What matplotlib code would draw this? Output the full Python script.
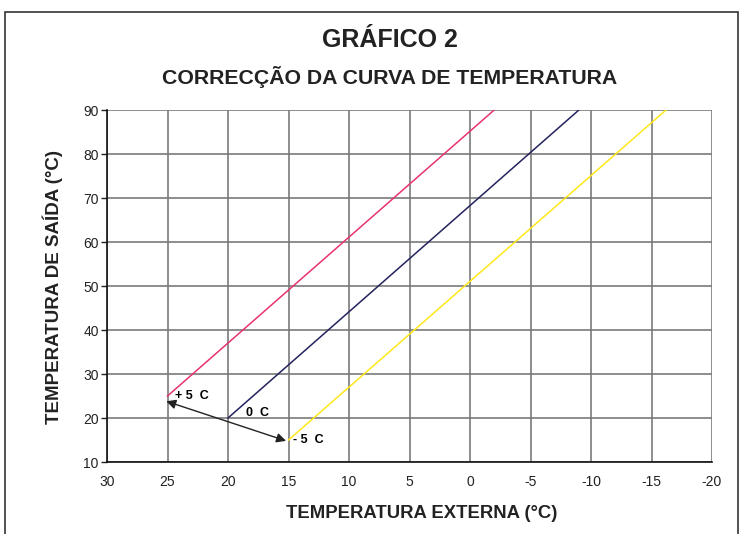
import matplotlib
matplotlib.use("Agg")
import matplotlib.pyplot as plt
from matplotlib.patches import Rectangle

plt.rcParams['font.family'] = ['Liberation Sans', 'DejaVu Sans']

# Data
x_red = [25, -2]
y_red = [25, 90]
x_navy = [20, -9]
y_navy = [20, 90]
x_yellow = [15, -16.2]
y_yellow = [15, 90]
arrow_start = (25.1, 23.8)
arrow_end = (15.2, 14.8)
labels = ["+ 5  C", "0  C", "- 5  C"]
label_x = [24.4, 18.5, 14.6]
label_y = [25.0, 21.1, 15.0]
xticks = [30, 25, 20, 15, 10, 5, 0, -5, -10, -15, -20]
yticks = [10, 20, 30, 40, 50, 60, 70, 80, 90]

fig = plt.figure(figsize=(7.43, 5.34), dpi=100)
ax = fig.add_axes([107/743, 72/534, 605/743, 352/534])

grid_c = '#7a7a7a'
for xv in xticks:
    ax.axvline(xv, color=grid_c, lw=1.2, zorder=1)
for yv in yticks:
    ax.axhline(yv, color=grid_c, lw=1.2, zorder=1)

ax.plot(x_red, y_red, color='#E8336F', lw=1.1, zorder=3)
ax.plot(x_navy, y_navy, color='#23235E', lw=1.1, zorder=3)
ax.plot(x_yellow, y_yellow, color='#FFE81A', lw=1.1, zorder=3)

ax.annotate('', xy=arrow_start, xytext=arrow_end,
            arrowprops=dict(arrowstyle='<|-|>', color='#222222', lw=1.0,
                            mutation_scale=14, shrinkA=0, shrinkB=0), zorder=4)
for t, lx, ly in zip(labels, label_x, label_y):
    ax.text(lx, ly, t, fontsize=9, fontweight='bold', ha='left', va='center', zorder=5)

ax.set_xlim(30, -20)
ax.set_ylim(10, 90)
ax.set_xticks(xticks)
ax.set_xticklabels([str(v) for v in xticks])
ax.set_yticks(yticks)
ax.tick_params(axis='x', length=0, pad=9, labelsize=10, colors='#222222')
ax.tick_params(axis='y', length=4, width=1, direction='out', pad=2, labelsize=10, colors='#222222')
for s in ['top', 'right']:
    ax.spines[s].set_visible(False)
for s in ['left', 'bottom']:
    ax.spines[s].set_color('#111111')
    ax.spines[s].set_linewidth(1.2)
    ax.spines[s].set_zorder(6)

fig.text(390/743, 1 - 40/534, 'GRÁFICO 2', fontsize=18, fontweight='bold',
         ha='center', va='center', color='#222222')
fig.text(390/743, 1 - 77/534, 'CORRECÇÃO DA CURVA DE TEMPERATURA', fontsize=15.3,
         fontweight='bold', ha='center', va='center', color='#222222')
fig.text(422/743, 1 - 513/534, 'TEMPERATURA EXTERNA (°C)', fontsize=13.3,
         fontweight='bold', ha='center', va='center', color='#222222')
fig.text(53/743, 1 - 287/534, 'TEMPERATURA DE SAÍDA (°C)', fontsize=13.5,
         fontweight='bold', ha='center', va='center', rotation=90, color='#222222')

fig.patches.append(Rectangle((5/743, -0.05), 733/743, 1.05 - 12/534,
                             transform=fig.transFigure, fill=False,
                             edgecolor='#333333', lw=1.2))

fig.savefig('out.png', dpi=100)
